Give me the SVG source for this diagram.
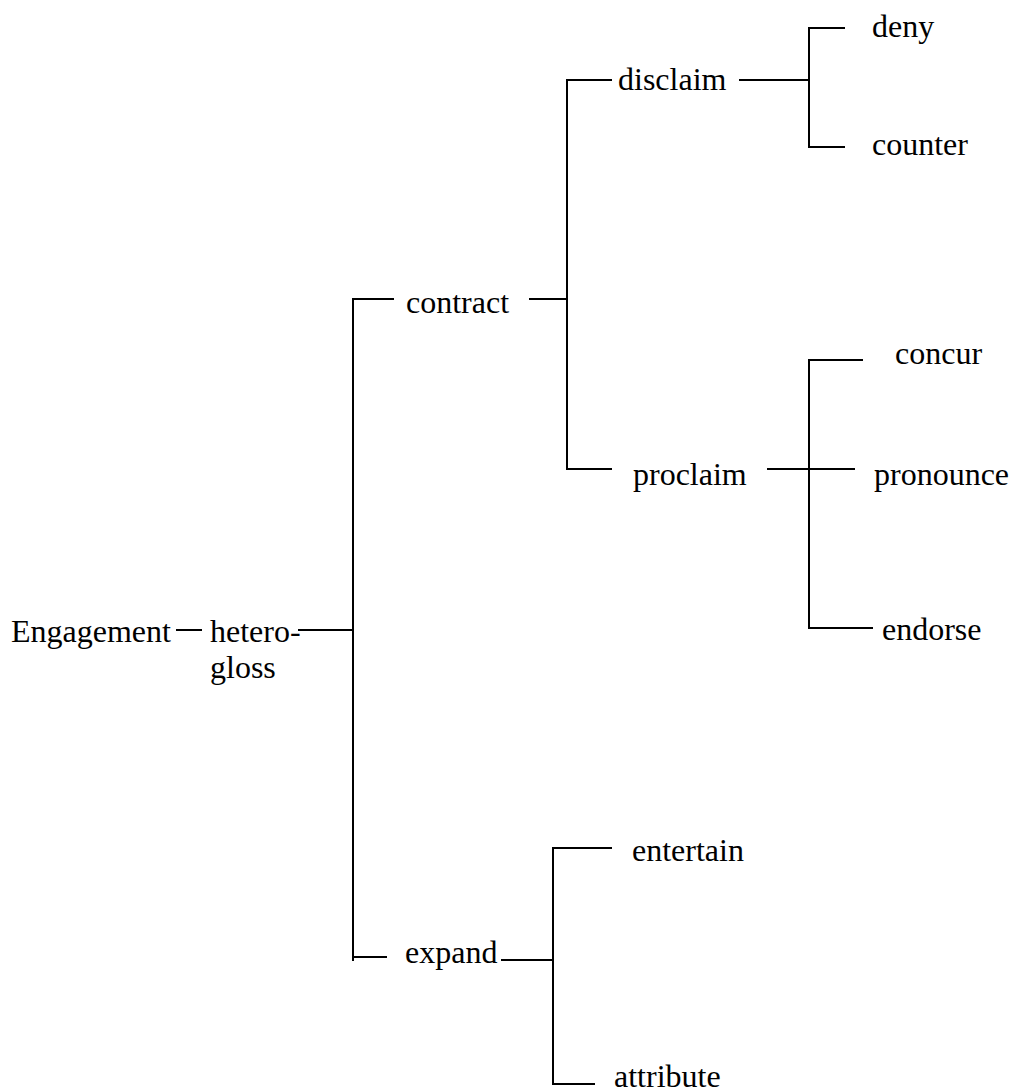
<svg xmlns="http://www.w3.org/2000/svg" width="1014" height="1091" viewBox="0 0 1014 1091">
<style>
text{font-family:"Liberation Serif","Times New Roman",serif;font-size:32px;fill:#000}
.c line{stroke:#000;stroke-width:2;fill:none}
</style>
<rect width="1014" height="1091" fill="#fff"/>
<g class="c" id="connectors">
<line x1="176" y1="630" x2="202" y2="630"/>
<line x1="298" y1="630" x2="354" y2="630"/>
<line x1="353" y1="298" x2="353" y2="961"/>
<line x1="352" y1="299" x2="394" y2="299"/>
<line x1="352" y1="957" x2="387" y2="957"/>
<line x1="529" y1="299" x2="568" y2="299"/>
<line x1="567" y1="79" x2="567" y2="470"/>
<line x1="566" y1="80" x2="612" y2="80"/>
<line x1="566" y1="469" x2="612" y2="469"/>
<line x1="739" y1="80" x2="810" y2="80"/>
<line x1="809" y1="27" x2="809" y2="148"/>
<line x1="808" y1="28" x2="845" y2="28"/>
<line x1="808" y1="147" x2="845" y2="147"/>
<line x1="767" y1="469" x2="855" y2="469"/>
<line x1="809" y1="359" x2="809" y2="629"/>
<line x1="808" y1="360" x2="863" y2="360"/>
<line x1="808" y1="628" x2="873" y2="628"/>
<line x1="501" y1="960" x2="554" y2="960"/>
<line x1="553" y1="847" x2="553" y2="1085"/>
<line x1="552" y1="848" x2="612" y2="848"/>
<line x1="552" y1="1084" x2="595" y2="1084"/>
</g>
<g id="engagement"><text x="11" y="642">Engagement</text></g>
<g id="heterogloss"><text x="210" y="642">hetero-</text><text x="210" y="678">gloss</text></g>
<g id="contract"><text x="406" y="313">contract</text></g>
<g id="expand"><text x="405" y="963">expand</text></g>
<g id="disclaim"><text x="618" y="90">disclaim</text></g>
<g id="proclaim"><text x="633" y="485">proclaim</text></g>
<g id="deny"><text x="872" y="37">deny</text></g>
<g id="counter"><text x="872" y="155">counter</text></g>
<g id="concur"><text x="895" y="364">concur</text></g>
<g id="pronounce"><text x="874" y="485">pronounce</text></g>
<g id="endorse"><text x="882" y="640">endorse</text></g>
<g id="entertain"><text x="632" y="861">entertain</text></g>
<g id="attribute"><text x="614" y="1087">attribute</text></g>
</svg>
